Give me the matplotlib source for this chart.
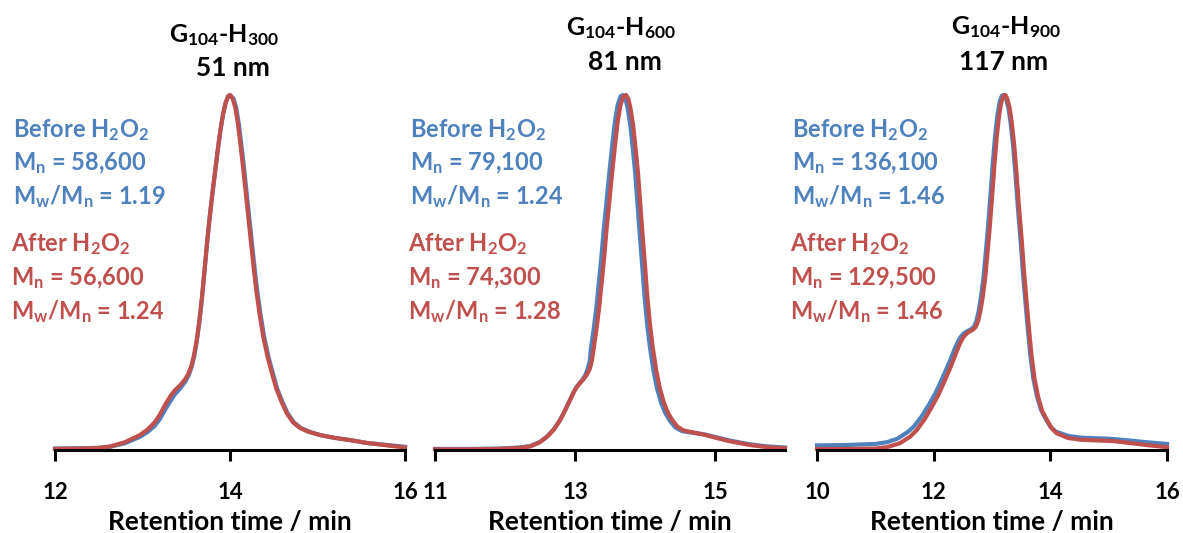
import matplotlib
matplotlib.use("Agg")
import matplotlib.pyplot as plt

plt.rcParams['font.family'] = ['Lato', 'DejaVu Sans']
plt.rcParams['mathtext.fontset'] = 'custom'
plt.rcParams['mathtext.rm'] = 'Lato:bold'
plt.rcParams['mathtext.bf'] = 'Lato:bold'
plt.rcParams['mathtext.default'] = 'bf'

BLUE = '#4F81BD'
RED = '#C0504D'

# ---- data (retention time / min, normalised signal) ----
# G104-H300
t1_red = [12.0, 12.3, 12.5, 12.63, 12.8, 12.97, 13.06, 13.14, 13.2, 13.26, 13.32, 13.37,
          13.43, 13.49, 13.53, 13.56, 13.59, 13.62, 13.65, 13.68, 13.71, 13.74, 13.77,
          13.80, 13.83, 13.86, 13.89, 13.92, 13.95, 13.98, 14.00, 14.03, 14.06, 14.09,
          14.12, 14.15, 14.18, 14.21, 14.24, 14.27, 14.30, 14.34, 14.38, 14.43, 14.48,
          14.53, 14.59, 14.65, 14.72, 14.80, 14.89, 15.03, 15.2, 15.37, 15.56, 15.8, 16.0]
v1_red = [0.003, 0.004, 0.006, 0.010, 0.022, 0.042, 0.058, 0.078, 0.100, 0.128, 0.152, 0.168,
          0.182, 0.200, 0.218, 0.238, 0.268, 0.31, 0.365, 0.432, 0.51, 0.59, 0.66,
          0.725, 0.785, 0.845, 0.900, 0.945, 0.978, 0.997, 1.0, 0.99, 0.965, 0.92,
          0.86, 0.795, 0.725, 0.655, 0.585, 0.515, 0.45, 0.38, 0.319, 0.262, 0.216,
          0.172, 0.135, 0.103, 0.078, 0.062, 0.052, 0.042, 0.034, 0.028, 0.020, 0.013, 0.007]
t1_blue = [12.0, 12.3, 12.5, 12.63, 12.8, 12.97, 13.06, 13.14, 13.2, 13.26, 13.32, 13.37,
           13.43, 13.49, 13.53, 13.56, 13.59, 13.62, 13.65, 13.68, 13.71, 13.74, 13.77,
           13.80, 13.83, 13.86, 13.89, 13.92, 13.95, 13.98, 14.00, 14.04, 14.07, 14.10,
           14.13, 14.16, 14.19, 14.22, 14.25, 14.28, 14.31, 14.35, 14.39, 14.44, 14.49,
           14.54, 14.60, 14.66, 14.73, 14.81, 14.90, 15.03, 15.2, 15.37, 15.56, 15.8, 16.0]
v1_blue = [0.004, 0.005, 0.006, 0.009, 0.019, 0.037, 0.051, 0.068, 0.088, 0.114, 0.138, 0.157,
           0.173, 0.193, 0.212, 0.233, 0.263, 0.305, 0.360, 0.428, 0.507, 0.588, 0.66,
           0.725, 0.785, 0.845, 0.900, 0.945, 0.978, 0.997, 1.0, 0.99, 0.965, 0.92,
           0.86, 0.795, 0.725, 0.655, 0.585, 0.515, 0.45, 0.38, 0.319, 0.262, 0.216,
           0.172, 0.135, 0.103, 0.078, 0.062, 0.052, 0.042, 0.034, 0.028, 0.020, 0.014, 0.009]

# G104-H600
t2_red = [11.0, 11.5, 11.9, 12.2, 12.36, 12.5, 12.6, 12.7, 12.79, 12.86, 12.93, 12.98,
          13.02, 13.07, 13.12, 13.17, 13.21, 13.24, 13.27, 13.31, 13.35, 13.38, 13.42,
          13.45, 13.49, 13.53, 13.57, 13.61, 13.65, 13.69, 13.73, 13.76, 13.79, 13.83,
          13.86, 13.90, 13.93, 13.96, 14.00, 14.03, 14.07, 14.11, 14.16, 14.21, 14.27,
          14.33, 14.39, 14.46, 14.55, 14.7, 14.85, 15.02, 15.2, 15.5, 15.75, 16.0]
v2_red = [0.002, 0.002, 0.003, 0.006, 0.010, 0.022, 0.037, 0.058, 0.085, 0.112, 0.141, 0.162,
          0.176, 0.188, 0.199, 0.212, 0.228, 0.25, 0.29, 0.345, 0.41, 0.47, 0.55,
          0.62, 0.70, 0.78, 0.855, 0.925, 0.972, 0.996, 1.0, 0.99, 0.965, 0.915,
          0.86, 0.78, 0.70, 0.62, 0.52, 0.44, 0.355, 0.29, 0.225, 0.175, 0.133,
          0.104, 0.084, 0.066, 0.055, 0.049, 0.043, 0.034, 0.025, 0.014, 0.008, 0.005]
t2_blue = [11.0, 11.5, 11.9, 12.2, 12.36, 12.5, 12.6, 12.7, 12.79, 12.86, 12.93, 12.98,
           13.02, 13.07, 13.11, 13.15, 13.18, 13.21, 13.23, 13.27, 13.31, 13.34, 13.38,
           13.41, 13.45, 13.49, 13.53, 13.57, 13.61, 13.65, 13.685, 13.72, 13.75, 13.79,
           13.82, 13.86, 13.89, 13.92, 13.96, 13.99, 14.03, 14.07, 14.12, 14.17, 14.23,
           14.29, 14.35, 14.43, 14.53, 14.7, 14.85, 15.02, 15.2, 15.5, 15.75, 16.0]
v2_blue = [0.003, 0.003, 0.004, 0.007, 0.011, 0.023, 0.038, 0.059, 0.086, 0.113, 0.142, 0.163,
           0.177, 0.189, 0.199, 0.212, 0.228, 0.25, 0.29, 0.345, 0.41, 0.47, 0.55,
           0.62, 0.70, 0.78, 0.855, 0.925, 0.972, 0.996, 1.0, 0.99, 0.965, 0.915,
           0.86, 0.78, 0.70, 0.62, 0.52, 0.44, 0.355, 0.29, 0.225, 0.175, 0.133,
           0.104, 0.084, 0.064, 0.053, 0.048, 0.044, 0.036, 0.027, 0.016, 0.010, 0.007]

# G104-H900
t3_red = [10.0, 10.5, 11.0, 11.2, 11.42, 11.6, 11.71, 11.85, 11.97, 12.08, 12.17, 12.26,
          12.34, 12.40, 12.45, 12.51, 12.57, 12.63, 12.68, 12.72, 12.76, 12.80, 12.84,
          12.88, 12.92, 12.96, 13.0, 13.04, 13.08, 13.12, 13.16, 13.20, 13.23, 13.26,
          13.30, 13.34, 13.38, 13.42, 13.46, 13.51, 13.55, 13.60, 13.64, 13.68, 13.73,
          13.79, 13.86, 13.94, 14.02, 14.11, 14.3, 14.51, 14.8, 15.08, 15.4, 15.65, 16.0]
v3_red = [0.003, 0.003, 0.004, 0.008, 0.019, 0.038, 0.056, 0.088, 0.122, 0.155, 0.188, 0.222,
          0.254, 0.280, 0.300, 0.318, 0.329, 0.335, 0.340, 0.347, 0.362, 0.39, 0.43,
          0.48, 0.55, 0.625, 0.71, 0.80, 0.88, 0.94, 0.98, 0.998, 1.0, 0.99,
          0.965, 0.92, 0.86, 0.78, 0.69, 0.59, 0.50, 0.404, 0.33, 0.263, 0.20,
          0.15, 0.11, 0.085, 0.062, 0.047, 0.034, 0.029, 0.027, 0.025, 0.019, 0.014, 0.008]
t3_blue = [10.0, 10.5, 11.0, 11.2, 11.38, 11.55, 11.66, 11.80, 11.92, 12.03, 12.12, 12.21,
           12.29, 12.35, 12.40, 12.46, 12.52, 12.58, 12.64, 12.69, 12.73, 12.77, 12.81,
           12.85, 12.89, 12.93, 12.97, 13.01, 13.05, 13.09, 13.13, 13.17, 13.205, 13.24,
           13.28, 13.32, 13.36, 13.40, 13.44, 13.49, 13.53, 13.58, 13.62, 13.66, 13.71,
           13.77, 13.84, 13.92, 14.0, 14.09, 14.3, 14.51, 14.8, 15.08, 15.4, 15.65, 16.0]
v3_blue = [0.013, 0.014, 0.017, 0.022, 0.032, 0.050, 0.066, 0.096, 0.128, 0.160, 0.192, 0.225,
           0.256, 0.281, 0.300, 0.318, 0.329, 0.335, 0.340, 0.347, 0.362, 0.39, 0.43,
           0.48, 0.55, 0.625, 0.71, 0.80, 0.88, 0.94, 0.98, 0.998, 1.0, 0.99,
           0.965, 0.92, 0.86, 0.78, 0.69, 0.59, 0.50, 0.404, 0.33, 0.263, 0.20,
           0.152, 0.113, 0.088, 0.066, 0.052, 0.040, 0.035, 0.033, 0.031, 0.026, 0.022, 0.017]

x_limits = [(12, 16), (11, 16), (10, 16)]
x_ticks = [[12, 14, 16], [11, 13, 15], [10, 12, 14, 16]]

titles = [r'G$_{104}$-H$_{300}$', r'G$_{104}$-H$_{600}$', r'G$_{104}$-H$_{900}$']
sizes = ['51 nm', '81 nm', '117 nm']
before_lines = [[r'M$_n$ = 58,600', r'M$_w$/M$_n$ = 1.19'],
                [r'M$_n$ = 79,100', r'M$_w$/M$_n$ = 1.24'],
                [r'M$_n$ = 136,100', r'M$_w$/M$_n$ = 1.46']]
after_lines = [[r'M$_n$ = 56,600', r'M$_w$/M$_n$ = 1.24'],
               [r'M$_n$ = 74,300', r'M$_w$/M$_n$ = 1.28'],
               [r'M$_n$ = 129,500', r'M$_w$/M$_n$ = 1.46']]

curves = [(t1_blue, v1_blue, t1_red, v1_red),
          (t2_blue, v2_blue, t2_red, v2_red),
          (t3_blue, v3_blue, t3_red, v3_red)]

W, H = 1183, 533
fig = plt.figure(figsize=(W / 100, H / 100), dpi=100)

def fx(px):
    return px / W

def fy(py):
    return 1 - py / H

# axes layout in pixels: left edge of axis, baseline, peak level
ax_left = [55, 435, 817]
ax_w = 350
base_py, peak_py = 450, 95
ymax = 1.1
ax_h = (base_py - peak_py) * ymax

title_py = [42, 35, 34]
nm_py = [76, 70, 70]
title_px = [224, 621, 1006]
nm_px = [233, 625, 1004]
text_px = [13, 410, 792]

for i in range(3):
    ax = fig.add_axes([fx(ax_left[i]), fy(base_py), ax_w / W, ax_h / H])
    tb, vb, tr, vr = curves[i]
    ax.plot(tb, vb, color=BLUE, lw=3.0, clip_on=False, solid_joinstyle='round')
    ax.plot(tr, vr, color=RED, lw=3.0, clip_on=False, solid_joinstyle='round')
    ax.set_xlim(*x_limits[i])
    ax.set_ylim(0, ymax)
    ax.set_xticks(x_ticks[i])
    ax.set_yticks([])
    for s in ['top', 'right', 'left']:
        ax.spines[s].set_visible(False)
    ax.spines['bottom'].set_linewidth(2.2)
    ax.tick_params(axis='x', direction='out', length=8, width=2.2, pad=15,
                   labelsize=16)
    for lab in ax.get_xticklabels():
        lab.set_fontweight('bold')
    ax.set_xlabel('Retention time / min', fontsize=19, fontweight='bold', labelpad=5)

    fig.text(fx(title_px[i]), fy(title_py[i]), titles[i], fontsize=18,
             fontweight='bold', ha='center', va='baseline')
    fig.text(fx(nm_px[i]), fy(nm_py[i]), sizes[i], fontsize=19,
             fontweight='bold', ha='center', va='baseline')

    fig.text(fx(text_px[i]), fy(137), r'Before H$_2$O$_2$', fontsize=17,
             fontweight='bold', color=BLUE, va='baseline')
    for j, line in enumerate(before_lines[i]):
        fig.text(fx(text_px[i]), fy(170.5 + 33.7 * j), line, fontsize=17,
                 fontweight='bold', color=BLUE, va='baseline')
    fig.text(fx(text_px[i] - 2), fy(251), r'After H$_2$O$_2$', fontsize=17,
             fontweight='bold', color=RED, va='baseline')
    for j, line in enumerate(after_lines[i]):
        fig.text(fx(text_px[i] - 2), fy(285 + 33.7 * j), line, fontsize=17,
                 fontweight='bold', color=RED, va='baseline')

fig.savefig('out.png', dpi=100)
